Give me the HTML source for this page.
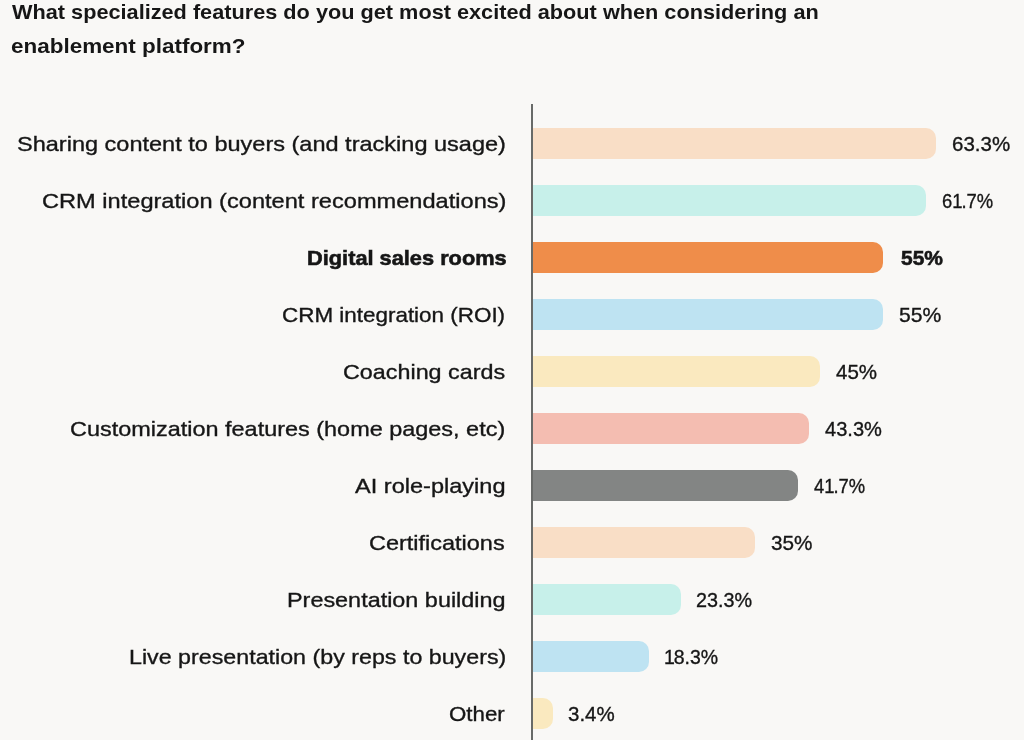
<!DOCTYPE html>
<html><head><meta charset="utf-8"><style>
html,body{margin:0;padding:0;}
body{width:1024px;height:740px;overflow:hidden;background:#f9f8f6;position:relative;font-family:"Liberation Sans",sans-serif;color:#161616;}
.t{position:absolute;white-space:nowrap;font-size:21px;line-height:21px;transform-origin:0 0;-webkit-text-stroke:0.35px #161616;}
.b{font-weight:bold;-webkit-text-stroke:0;}
.bb{-webkit-text-stroke:0.6px #161616;}
.one{display:inline-block;width:10.50px;text-align:center;}
.bar{position:absolute;left:533px;height:31.3px;border-radius:0 10px 10px 0;}
.axis{position:absolute;left:531px;top:104px;width:2px;height:636px;background:#686a68;}
</style></head><body>
<div class="t b" style="left:12.00px;top:1.22px;transform:scaleX(1.0334)">What specialized features do you get most excited about when considering an</div>
<div class="t b" style="left:10.93px;top:35.22px;transform:scaleX(1.0692)">enablement platform?</div>
<div class="axis"></div>
<div class="bar" style="top:128.00px;width:402.5px;background:#f9dec6"></div>
<div class="t" style="left:16.88px;top:133.17px;transform:scaleX(1.1198)">Sharing content to buyers (and tracking usage)</div>
<div class="t" style="left:952.22px;top:133.17px;transform:scaleX(0.9765)">63.3%</div>
<div class="bar" style="top:184.95px;width:392.8px;background:#c7f0ea"></div>
<div class="t" style="left:41.88px;top:190.17px;transform:scaleX(1.1241)">CRM integration (content recommendations)</div>
<div class="t" style="left:942.03px;top:190.17px;transform:scaleX(0.8766)">6<span class="one">1</span>.7%</div>
<div class="bar" style="top:241.90px;width:350.3px;background:#ef8d4a"></div>
<div class="t b bb" style="left:306.92px;top:247.17px;transform:scaleX(1.0369)">Digital sales rooms</div>
<div class="t b bb" style="left:900.83px;top:247.17px;transform:scaleX(0.9979)">55%</div>
<div class="bar" style="top:298.85px;width:350.3px;background:#bee3f2"></div>
<div class="t" style="left:282.40px;top:304.17px;transform:scaleX(1.0680)">CRM integration (ROI)</div>
<div class="t" style="left:899.32px;top:304.17px;transform:scaleX(1.0070)">55%</div>
<div class="bar" style="top:355.80px;width:286.5px;background:#fae9bf"></div>
<div class="t" style="left:342.89px;top:361.17px;transform:scaleX(1.1113)">Coaching cards</div>
<div class="t" style="left:835.89px;top:361.17px;transform:scaleX(0.9777)">45%</div>
<div class="bar" style="top:412.75px;width:275.5px;background:#f4bdb1"></div>
<div class="t" style="left:70.32px;top:418.17px;transform:scaleX(1.1163)">Customization features (home pages, etc)</div>
<div class="t" style="left:824.78px;top:418.17px;transform:scaleX(0.9563)">43.3%</div>
<div class="bar" style="top:469.70px;width:264.9px;background:#838584"></div>
<div class="t" style="left:355.44px;top:475.17px;transform:scaleX(1.1213)">AI role-playing</div>
<div class="t" style="left:814.42px;top:475.17px;transform:scaleX(0.8758)">4<span class="one">1</span>.7%</div>
<div class="bar" style="top:526.65px;width:222.0px;background:#f9dec6"></div>
<div class="t" style="left:369.32px;top:532.17px;transform:scaleX(1.1177)">Certifications</div>
<div class="t" style="left:771.15px;top:532.17px;transform:scaleX(0.9868)">35%</div>
<div class="bar" style="top:583.60px;width:147.8px;background:#c7f0ea"></div>
<div class="t" style="left:286.77px;top:589.17px;transform:scaleX(1.1141)">Presentation building</div>
<div class="t" style="left:696.43px;top:589.17px;transform:scaleX(0.9423)">23.3%</div>
<div class="bar" style="top:640.55px;width:116.0px;background:#bee3f2"></div>
<div class="t" style="left:128.79px;top:646.17px;transform:scaleX(1.1069)">Live presentation (by reps to buyers)</div>
<div class="t" style="left:664.19px;top:646.17px;transform:scaleX(0.9276)"><span class="one">1</span>8.3%</div>
<div class="bar" style="top:697.50px;width:20.0px;background:#fae9bf"></div>
<div class="t" style="left:448.94px;top:703.17px;transform:scaleX(1.0601)">Other</div>
<div class="t" style="left:568.33px;top:703.17px;transform:scaleX(0.9755)">3.4%</div>
</body></html>
